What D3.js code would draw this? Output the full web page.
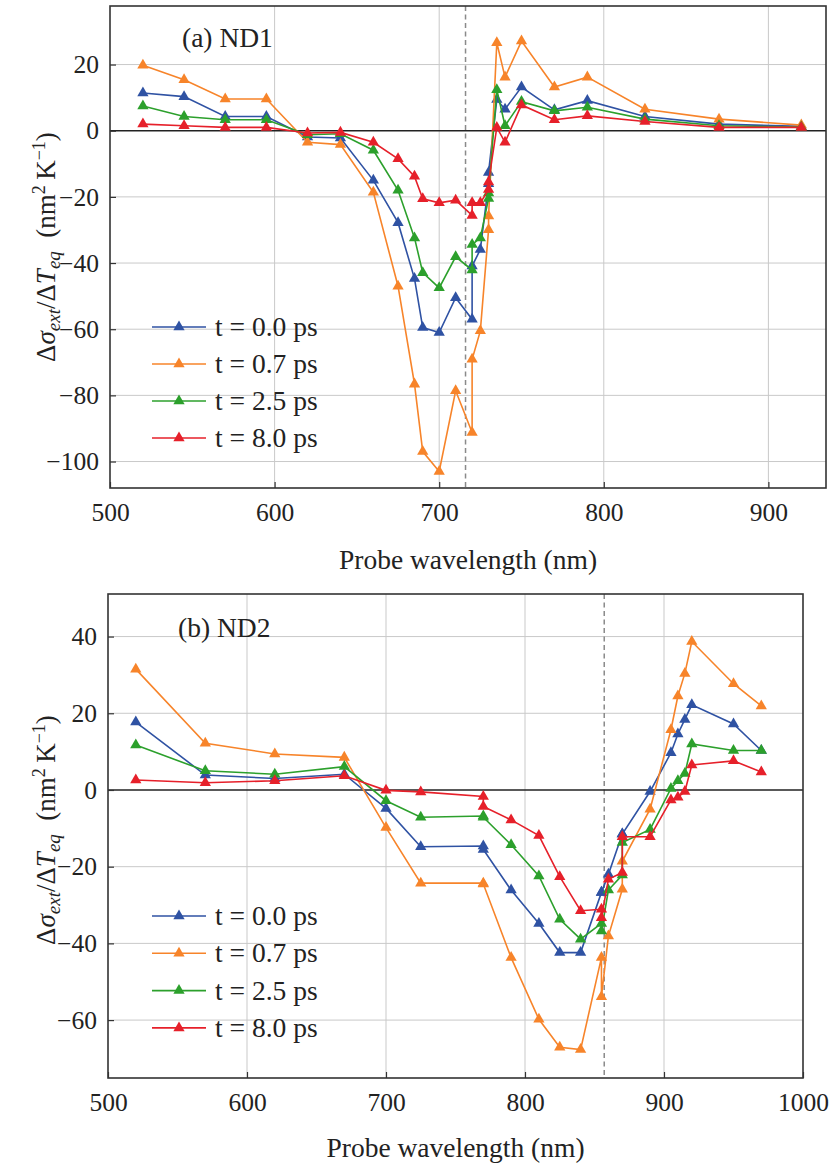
<!DOCTYPE html>
<html><head><meta charset="utf-8">
<script src="https://cdn.jsdelivr.net/npm/d3@7"></script>
<style>
html,body{margin:0;padding:0;background:#fff;}
svg{display:block;font-family:"Liberation Serif","Times New Roman",serif;}
</style></head>
<body><svg id="chart" width="830" height="1167"></svg>
<script>
// ---------- DATA ----------
const seriesLabels = ["t = 0.0 ps", "t = 0.7 ps", "t = 2.5 ps", "t = 8.0 ps"];
const seriesColors = ["#2f52a3", "#f7842a", "#2ca02c", "#e6202a"];

// Panel (a) ND1
const wavelengthsA = [520,545,570,595,620,640,660,675,685,690,700,710,720,720,725,730,730,735,740,750,770,790,825,870,920];
const t00A = [11.4,10.3,4.3,4.3,-1.9,-2.2,-15,-27.8,-44.7,-59.5,-61,-50.5,-57,-40.9,-35.9,-16,-12.6,9.4,6.5,13.2,6.3,9.1,4.3,2.0,1.3];
const t07A = [19.8,15.4,9.6,9.6,-3.5,-4.2,-18.6,-47,-76.6,-97,-103,-78.6,-91.2,-69.1,-60.5,-29.9,-25.8,26.6,16.2,27.1,13.2,16.2,6.5,3.5,1.7];
const t25A = [7.5,4.3,3.3,3.3,-1.2,-0.9,-5.9,-18,-32.4,-42.9,-47.5,-38.1,-42.1,-34.4,-32.4,-20.5,-18.8,12.4,1.5,8.8,6.0,7.1,3.5,1.5,1.1];
const t80A = [2.0,1.5,1.0,1.0,-0.7,-0.5,-3.5,-8.5,-13.8,-20.6,-21.8,-21,-25.6,-21.8,-21.8,-17.8,-15.5,1.0,-3.5,7.8,3.3,4.5,2.8,1.0,1.0];
const xTicksA = [500,600,700,800,900];
const yTicksA = [-100,-80,-60,-40,-20,0,20];
const dashedA = 716;

// Panel (b) ND2
const wavelengthsB = [520,570,620,670,700,725,770,770,790,810,825,840,855,855,860,870,870,890,905,910,915,920,950,970];
const t00B = [17.7,3.9,3.0,4.1,-4.8,-14.8,-14.6,-15.5,-26.1,-34.8,-42.4,-42.4,-26.7,-26.7,-22,-11.5,-11.5,-0.4,9.7,14.6,18.4,22.2,17.2,10.3];
const t07B = [31.5,12.2,9.4,8.5,-9.8,-24.3,-24.3,-24.5,-43.7,-59.8,-67.1,-67.7,-43.7,-53.9,-38.1,-25.9,-18.6,-5.0,15.7,24.5,30.4,38.7,27.7,21.9];
const t25B = [11.7,5.0,4.1,6.1,-2.8,-7.1,-6.8,-7.1,-14.3,-22.4,-33.7,-38.9,-34.8,-36.8,-26.1,-22.2,-13.7,-10.3,0.4,2.4,4.3,12.0,10.3,10.3];
const t80B = [2.6,1.9,2.4,3.7,-0.1,-0.5,-1.7,-4.3,-7.8,-11.9,-22.6,-31.5,-31.1,-33.3,-23.3,-21.5,-12.2,-12.2,-2.6,-1.9,-0.4,6.5,7.6,4.7];
const xTicksB = [500,600,700,800,900,1000];
const yTicksB = [-60,-40,-20,0,20,40];
const dashedB = 857;

// ---------- DRAW ----------
const svg = d3.select("#chart");
const FONT = "Liberation Serif";
const tri = d3.symbol().type(d3.symbolTriangle).size(55);

function drawPanel(p) {
  const x = d3.scaleLinear().domain(p.xDomain).range([p.left, p.right]);
  const y = d3.scaleLinear().domain(p.yDomain).range([p.bottom, p.top]);
  const g = svg.append("g").attr("font-family", FONT);

  // grid
  g.append("g").selectAll("line").data(p.xTicks.filter(v => v > p.xDomain[0] && v < p.xDomain[1]))
    .join("line").attr("x1", d => x(d)).attr("x2", d => x(d)).attr("y1", p.top).attr("y2", p.bottom)
    .attr("stroke", "#c9c9c9").attr("stroke-width", 1);
  g.append("g").selectAll("line").data(p.yTicks.filter(v => v !== 0))
    .join("line").attr("y1", d => y(d)).attr("y2", d => y(d)).attr("x1", p.left).attr("x2", p.right)
    .attr("stroke", "#c9c9c9").attr("stroke-width", 1);

  // dashed vertical line
  g.append("line").attr("x1", x(p.dashed)).attr("x2", x(p.dashed)).attr("y1", p.top).attr("y2", p.bottom)
    .attr("stroke", "#8a8a8a").attr("stroke-width", 1.5).attr("stroke-dasharray", "5,3.5");

  // zero line
  g.append("line").attr("x1", p.left).attr("x2", p.right).attr("y1", y(0)).attr("y2", y(0))
    .attr("stroke", "#222").attr("stroke-width", 1.6);

  // axes
  const xAxis = d3.axisBottom(x).tickValues(p.xTicks).tickSize(-6).tickPadding(15).tickFormat(d3.format("d"));
  const yAxis = d3.axisLeft(y).tickValues(p.yTicks).tickSize(-6).tickPadding(11)
    .tickFormat(d => d < 0 ? "\u2212" + Math.abs(d) : String(d));
  const gx = g.append("g").attr("transform", `translate(0,${p.bottom})`).call(xAxis);
  const gy = g.append("g").attr("transform", `translate(${p.left},0)`).call(yAxis);
  [gx, gy].forEach(a => {
    a.attr("font-family", FONT).attr("font-size", 25.5);
    a.select(".domain").remove();
    a.selectAll(".tick line").attr("stroke", "#333").attr("stroke-width", 1.2);
    a.selectAll(".tick text").attr("fill", "#222");
  });

  // series
  const line = d3.line().x(d => x(d[0])).y(d => y(d[1]));
  p.series.forEach((vals, i) => {
    const pts = p.wavelengths.map((w, j) => [w, vals[j]]).filter(d => d[1] != null);
    g.append("path").datum(pts).attr("d", line).attr("fill", "none")
      .attr("stroke", seriesColors[i]).attr("stroke-width", 1.6);
    g.append("g").selectAll("path").data(pts).join("path")
      .attr("d", tri).attr("transform", d => `translate(${x(d[0])},${y(d[1])})`)
      .attr("fill", seriesColors[i]);
  });

  // frame
  g.append("rect").attr("x", p.left).attr("y", p.top).attr("width", p.right - p.left).attr("height", p.bottom - p.top)
    .attr("fill", "none").attr("stroke", "#333").attr("stroke-width", 1.6);

  // panel label
  g.append("text").attr("x", p.labelX).attr("y", p.labelY).text(p.label)
    .attr("font-size", 27.5).attr("fill", "#222");

  // legend
  seriesLabels.forEach((lab, i) => {
    const ly = p.legendY + i * p.legendDy;
    g.append("line").attr("x1", p.legendX).attr("x2", p.legendX + 54).attr("y1", ly).attr("y2", ly)
      .attr("stroke", seriesColors[i]).attr("stroke-width", 1.6);
    g.append("path").attr("d", tri).attr("transform", `translate(${p.legendX + 27},${ly})`).attr("fill", seriesColors[i]);
    g.append("text").attr("x", p.legendX + 63).attr("y", ly + 9).text(lab)
      .attr("font-size", 27.5).attr("fill", "#222");
  });

  // x title
  g.append("text").attr("x", (p.left + p.right) / 2 + p.xTitleDx).attr("y", p.xTitleY).attr("text-anchor", "middle")
    .text("Probe wavelength (nm)").attr("font-size", 27.5).attr("fill", "#222");

  // y title
  const yt = g.append("text").attr("transform", `translate(${p.yTitleX},${(p.top + p.bottom) / 2 + p.yTitleDy}) rotate(-90)`)
    .attr("text-anchor", "middle").attr("font-size", 27).attr("fill", "#222");
  yt.append("tspan").text("\u0394");
  yt.append("tspan").text("\u03c3").style("font-style", "italic");
  yt.append("tspan").text("ext").style("font-style", "italic").attr("font-size", 19).attr("dy", 5);
  yt.append("tspan").text("/\u0394").attr("dy", -5);
  yt.append("tspan").text("T").style("font-style", "italic");
  yt.append("tspan").text("eq").style("font-style", "italic").attr("font-size", 19).attr("dy", 5);
  yt.append("tspan").text("\u2002(nm").attr("dy", -5);
  yt.append("tspan").text("2").attr("font-size", 18).attr("dy", -10);
  yt.append("tspan").text("\u2009K").attr("dy", 10);
  yt.append("tspan").text("\u22121").attr("font-size", 18).attr("dy", -10);
  yt.append("tspan").text(")").attr("dy", 10);
}

drawPanel({
  left: 110, right: 826, top: 6, bottom: 488,
  xDomain: [500, 935], yDomain: [-108, 37.7],
  xTicks: xTicksA, yTicks: yTicksA, dashed: dashedA,
  wavelengths: wavelengthsA, series: [t00A, t07A, t25A, t80A],
  label: "(a) ND1", labelX: 182, labelY: 47,
  legendX: 152, legendY: 327, legendDy: 37,
  xTitleY: 569, xTitleDx: 0, yTitleX: 55, yTitleDy: 0
});

drawPanel({
  left: 108, right: 803, top: 594, bottom: 1078,
  xDomain: [500, 1000], yDomain: [-75.1, 51.1],
  xTicks: xTicksB, yTicks: yTicksB, dashed: dashedB,
  wavelengths: wavelengthsB, series: [t00B, t07B, t25B, t80B],
  label: "(b) ND2", labelX: 178, labelY: 637,
  legendX: 152, legendY: 916, legendDy: 37.3,
  xTitleY: 1157, xTitleDx: 0, yTitleX: 55, yTitleDy: -6
});
</script></body></html>
